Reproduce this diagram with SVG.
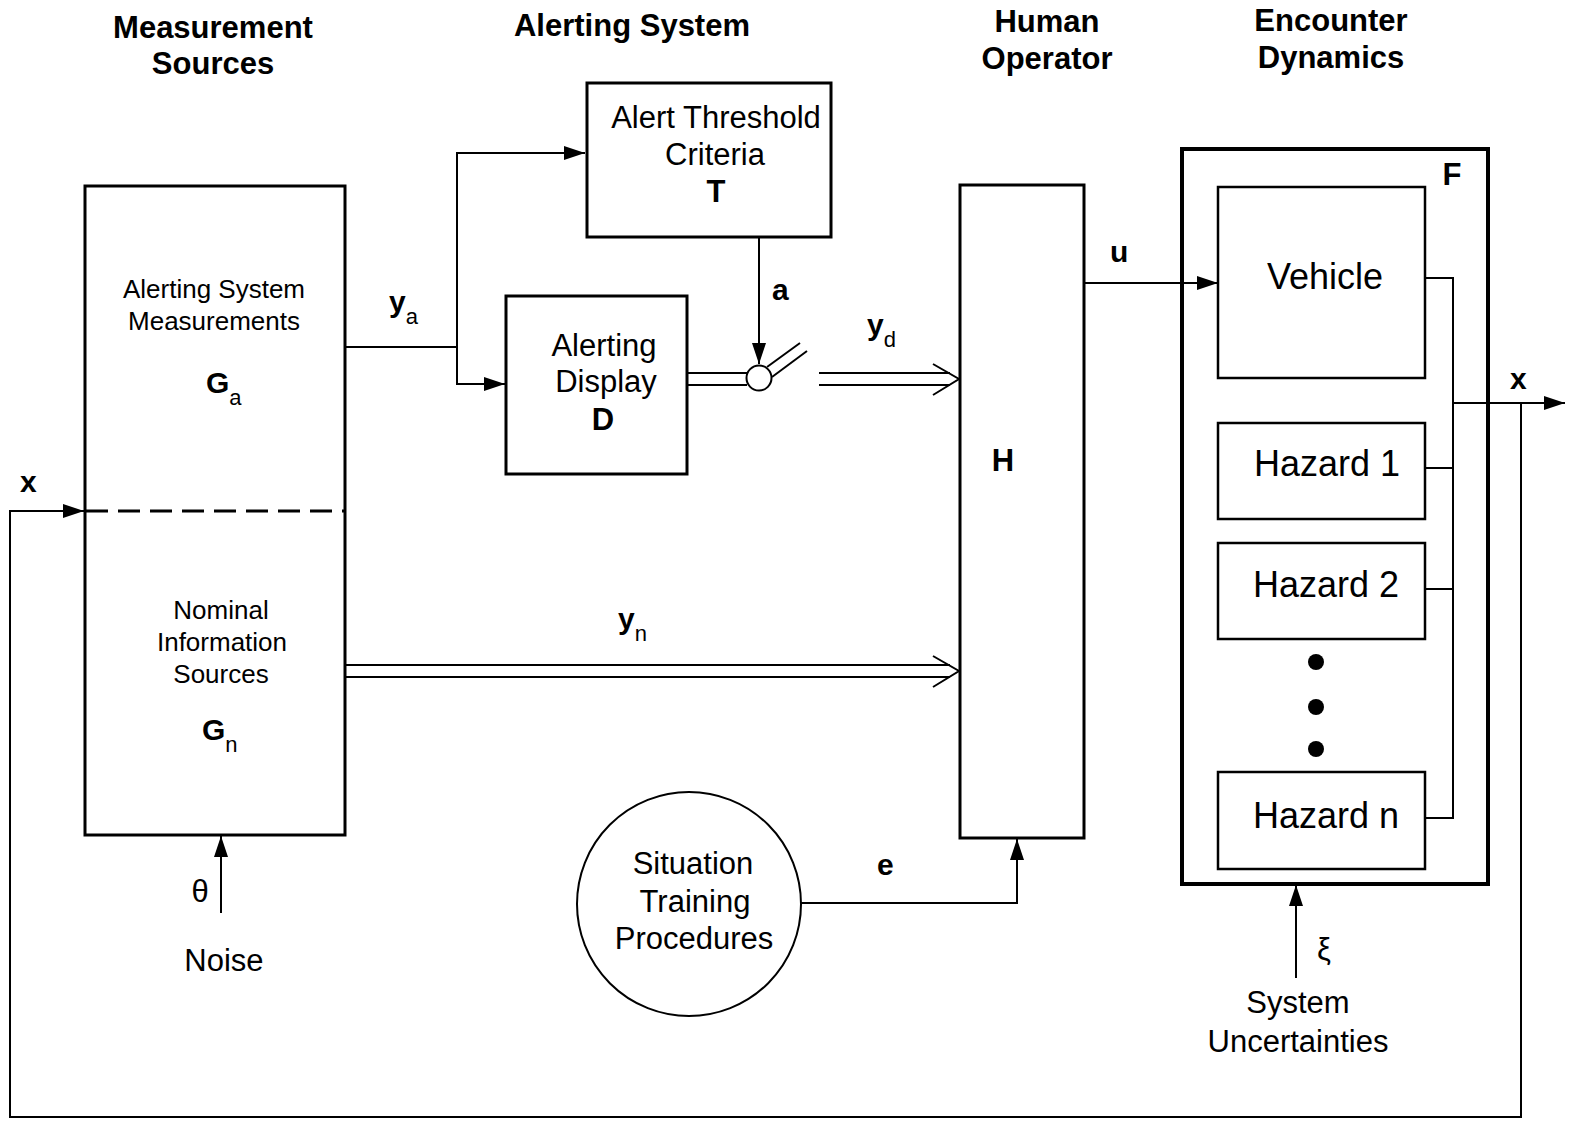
<svg xmlns="http://www.w3.org/2000/svg" width="1573" height="1123" viewBox="0 0 1573 1123">
<style>
text{font-family:"Liberation Sans",Arial,sans-serif;fill:#000}
.t{font-weight:bold;font-size:31px;text-anchor:middle}
.m{font-size:31px;text-anchor:middle}
.s{font-size:26px;text-anchor:middle}
.b{font-weight:bold;font-size:30px}
.sub{font-size:22px}
.box{fill:#fff;stroke:#000;stroke-width:3}
.ibox{fill:#fff;stroke:#000;stroke-width:2.5}
.ln{fill:none;stroke:#000;stroke-width:2}
</style>
<defs>
<marker id="ar" markerUnits="userSpaceOnUse" markerWidth="22" markerHeight="16" refX="21" refY="7" orient="auto">
<path d="M0,0 L21,7 L0,14 z" fill="#000"/>
</marker>
</defs>
<rect width="1573" height="1123" fill="#fff"/>

<g id="titles">
<text class="t" x="213" y="38">Measurement</text>
<text class="t" x="213" y="74">Sources</text>
<text class="t" x="632" y="36">Alerting System</text>
<text class="t" x="1047" y="32">Human</text>
<text class="t" x="1047" y="69">Operator</text>
<text class="t" x="1331" y="31">Encounter</text>
<text class="t" x="1331" y="68">Dynamics</text>
</g>

<g id="measurement">
<rect class="box" x="85" y="186" width="260" height="649"/>
<line x1="86" y1="511" x2="344" y2="511" stroke="#000" stroke-width="3" stroke-dasharray="22,10"/>
<text class="s" x="214" y="298">Alerting System</text>
<text class="s" x="214" y="330">Measurements</text>
<text class="b" x="206" y="393">G<tspan class="sub" font-weight="normal" dy="12">a</tspan></text>
<text class="s" x="221" y="619">Nominal</text>
<text class="s" x="222" y="651">Information</text>
<text class="s" x="221" y="683">Sources</text>
<text class="b" x="202" y="740">G<tspan class="sub" font-weight="normal" dy="12">n</tspan></text>
</g>

<g id="threshold">
<rect class="box" x="587" y="83" width="244" height="154"/>
<text class="m" x="716" y="128">Alert Threshold</text>
<text class="m" x="715" y="165">Criteria</text>
<text class="t" x="716" y="202">T</text>
</g>

<g id="display">
<rect class="box" x="506" y="296" width="181" height="178"/>
<text class="m" x="604" y="356">Alerting</text>
<text class="m" x="606" y="392">Display</text>
<text class="t" x="603" y="430">D</text>
</g>

<g id="human">
<rect class="box" x="960" y="185" width="124" height="653"/>
<text class="t" x="1003" y="471">H</text>
</g>

<g id="encounter">
<rect fill="none" stroke="#000" stroke-width="4" x="1182" y="149" width="306" height="735"/>
<text class="t" x="1452" y="185">F</text>
<rect class="ibox" x="1218" y="187" width="207" height="191"/>
<text font-size="36" text-anchor="middle" x="1325" y="289">Vehicle</text>
<rect class="ibox" x="1218" y="423" width="207" height="96"/>
<text font-size="36" text-anchor="middle" x="1327" y="476">Hazard 1</text>
<rect class="ibox" x="1218" y="543" width="207" height="96"/>
<text font-size="36" text-anchor="middle" x="1326" y="597">Hazard 2</text>
<circle cx="1316" cy="662" r="8"/>
<circle cx="1316" cy="707" r="8"/>
<circle cx="1316" cy="749" r="8"/>
<rect class="ibox" x="1218" y="772" width="207" height="97"/>
<text font-size="36" text-anchor="middle" x="1326" y="828">Hazard n</text>
</g>

<g id="training">
<circle cx="689" cy="904" r="112" fill="#fff" stroke="#000" stroke-width="2"/>
<text class="m" x="693" y="874">Situation</text>
<text class="m" x="695" y="912">Training</text>
<text class="m" x="694" y="949">Procedures</text>
</g>

<g id="connectors">
<polyline class="ln" points="1521,403 1521,1117 10,1117 10,511 84,511" marker-end="url(#ar)"/>
<polyline class="ln" points="345,347 457,347"/>
<polyline class="ln" points="457,347 457,153 585,153" marker-end="url(#ar)"/>
<polyline class="ln" points="457,347 457,384 505,384" marker-end="url(#ar)"/>
<line class="ln" x1="759" y1="238" x2="759" y2="364" marker-end="url(#ar)"/>
<line class="ln" x1="687" y1="373" x2="747" y2="373"/>
<line class="ln" x1="687" y1="385" x2="747" y2="385"/>
<circle cx="759" cy="378" r="12.5" fill="#fff" stroke="#000" stroke-width="2"/>
<line class="ln" x1="767" y1="367" x2="800" y2="343"/>
<line class="ln" x1="772" y1="377" x2="807" y2="351"/>
<line class="ln" x1="819" y1="373" x2="950" y2="373"/>
<line class="ln" x1="819" y1="385" x2="950" y2="385"/>
<polyline class="ln" points="933,364 959,379 933,395"/>
<line class="ln" x1="345" y1="665" x2="950" y2="665"/>
<line class="ln" x1="345" y1="677" x2="950" y2="677"/>
<polyline class="ln" points="933,656 959,671 933,687"/>
<line class="ln" x1="1085" y1="283" x2="1218" y2="283" marker-end="url(#ar)"/>
<polyline class="ln" points="800,903 1017,903 1017,839" marker-end="url(#ar)"/>
<line class="ln" x1="221" y1="913" x2="221" y2="836" marker-end="url(#ar)"/>
<line class="ln" x1="1296" y1="978" x2="1296" y2="885" marker-end="url(#ar)"/>
<polyline class="ln" points="1426,278 1453,278 1453,818 1426,818"/>
<line class="ln" x1="1426" y1="468" x2="1453" y2="468"/>
<line class="ln" x1="1426" y1="589" x2="1453" y2="589"/>
<line class="ln" x1="1453" y1="403" x2="1565" y2="403" marker-end="url(#ar)"/>
</g>

<g id="labels">
<text class="b" x="20" y="492">x</text>
<text class="b" x="1510" y="389">x</text>
<text class="b" x="389" y="312">y<tspan class="sub" font-weight="normal" dy="12">a</tspan></text>
<text class="b" x="772" y="300">a</text>
<text class="b" x="867" y="335">y<tspan class="sub" font-weight="normal" dy="12">d</tspan></text>
<text class="b" x="618" y="629">y<tspan class="sub" font-weight="normal" dy="12">n</tspan></text>
<text class="b" x="1110" y="262">u</text>
<text class="b" x="877" y="875">e</text>
<text class="m" x="200" y="902">θ</text>
<text class="m" x="224" y="971">Noise</text>
<text class="m" x="1324" y="960">ξ</text>
<text class="m" x="1298" y="1013">System</text>
<text class="m" x="1298" y="1052">Uncertainties</text>
</g>
</svg>
